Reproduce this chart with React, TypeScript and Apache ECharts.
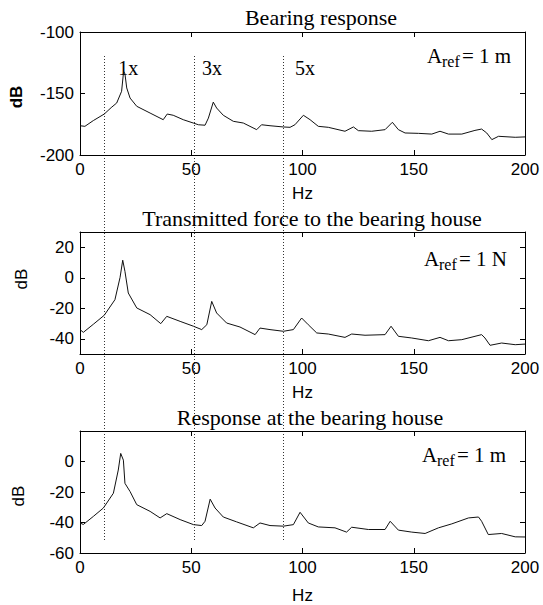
import React, { useEffect, useRef } from "react";
import * as echarts from "echarts";

const W = 543;
const H = 605;

// ---- data ----
const topHz = [0, 2.2, 6, 10.9, 14, 16.5, 18.7, 19.6, 20.2, 21.0, 22.5, 25.5, 31.5, 37.4, 39.2, 41.9, 46.4, 50.9, 53.2, 56.2, 57.7, 59.9, 61.4, 64.4, 68.9, 73.4, 79.4, 81.6, 85.4, 91.4, 94.4, 96.6, 100.4, 103.4, 107.1, 111.6, 119.1, 122.9, 125.1, 131.1, 137.1, 140.4, 143.1, 146.1, 152.1, 158.1, 161.8, 165.6, 171.6, 177.5, 180.5, 182.8, 185.1, 188.1, 195.6, 200];
const topDb = [-176.2, -176.7, -172, -166.7, -161.5, -157.7, -148.2, -132, -134, -145.5, -153.7, -160.4, -165.9, -171.3, -166.7, -167.7, -171.3, -174, -175.4, -175.8, -170, -157, -161.8, -167.7, -172.6, -174, -179.4, -175.4, -176.2, -177.2, -177.5, -175.4, -167.7, -171.3, -176.7, -177.5, -180.7, -177.2, -180.2, -180.7, -179.4, -173.4, -179.4, -182.1, -182.4, -183, -180.7, -183, -183, -180, -178.9, -182.1, -187.5, -184.8, -185.6, -185.3];

const midHz = [0, 1.5, 6, 10.9, 15.7, 18, 19.2, 20.2, 21.7, 25.5, 31.5, 36.3, 39, 45, 51, 54.7, 57, 59.2, 61.4, 65.9, 71.9, 78.7, 80.9, 85.4, 91.4, 95.9, 99.6, 102.6, 106.4, 111.6, 119.1, 122.1, 128.1, 137.1, 139.8, 143.1, 149.1, 156.6, 161.8, 165.6, 171.6, 180.5, 182, 184.3, 189.5, 195.6, 200];
const midDb = [-34, -35.8, -30.5, -24.6, -14.4, 0.2, 11.5, 4.2, -10, -19.8, -24.2, -30.1, -25.3, -28.6, -31.8, -34, -30.8, -15.5, -23.1, -29.7, -32.3, -37.3, -33, -34, -35.1, -34, -26.4, -30.8, -36.2, -36.9, -39.1, -36.9, -37.7, -37.3, -31.8, -38.4, -39.5, -41.3, -39.1, -41.3, -40.6, -37.3, -39.5, -44.3, -42.8, -43.9, -43.5];

const botHz = [0, 1.5, 6, 10.5, 15, 17.2, 18.3, 19.5, 20.2, 22.5, 25.5, 31.5, 36, 39, 45, 51, 54.7, 56.2, 58.5, 60.7, 64.4, 70.4, 77.9, 80.9, 85.4, 91.4, 95.9, 98.9, 102.6, 107.1, 114.6, 119.8, 122.1, 129.6, 137.1, 139.4, 143.1, 149.1, 155.1, 161.1, 167.1, 174.6, 179.1, 180.5, 183.5, 189.5, 195.6, 200];
const botDb = [-40.3, -41.3, -36, -30.5, -20.8, -5.6, 5.3, 0.9, -14.3, -19.7, -28.3, -32.7, -37, -34.2, -38.1, -41.4, -42, -39.2, -24.7, -30.5, -36.4, -39.6, -43.5, -40.3, -42, -42.4, -41.4, -33.3, -40.3, -42.9, -43.5, -46.3, -43.1, -44.6, -44.6, -39.2, -45, -46.3, -47.2, -43.5, -40.9, -37, -36.4, -39.2, -47.9, -47.2, -49.4, -49.5];

const xTicks = [0, 50, 100, 150, 200];
const yRanges = [[-200, -100], [-50, 30], [-60, 20]];
const yLabelValues = [[-200, -150, -100], [-40, -20, 0, 20], [-60, -40, -20, 0]];
const titles = ["Bearing response", "Transmitted force to the bearing house", "Response at the bearing house"];
const refUnits = ["1 m", "1 N", "1 m"];
const harmonicLineHz = [10.9, 51.4, 91.4];
const harmonicLabels = ["1x", "3x", "5x"];
const harmonicLabelHz = [17.2, 54.8, 96.6];
const harmonicLabelDb = -129.5;

const SERIF = "'Liberation Serif', 'Times New Roman', serif";
const SANS = "'Liberation Sans', Arial, sans-serif";

export default function App() {
  const ref = useRef<HTMLDivElement>(null);

  useEffect(() => {
    if (!ref.current) return;
    const chart = echarts.init(ref.current, null, { renderer: "svg", width: W, height: H });

    const grids = [
      { left: 80, top: 32, width: 445, height: 123 },
      { left: 80, top: 232, width: 445, height: 122 },
      { left: 80, top: 431, width: 445, height: 123 },
    ];
    const nameGaps = [30, 30, 34];
    const series = [
      [topHz, topDb],
      [midHz, midDb],
      [botHz, botDb],
    ];

    const axisLine = { show: true, onZero: false, lineStyle: { color: "#000", width: 1 } };
    const tickStyle = { color: "#000", width: 1 };
    const labelStyle = { fontFamily: SANS, fontSize: 17, color: "#000" };

    const xAxis: any[] = [];
    const yAxis: any[] = [];
    for (let i = 0; i < 3; i++) {
      xAxis.push({
        type: "value", gridIndex: i, min: 0, max: 200, interval: 50, position: "bottom",
        name: "Hz", nameLocation: "middle", nameGap: nameGaps[i],
        nameTextStyle: { ...labelStyle },
        axisLine, axisTick: { show: true, inside: true, length: 5, lineStyle: tickStyle },
        axisLabel: { ...labelStyle, margin: 6, customValues: xTicks },
        splitLine: { show: false },
      });
    }
    for (let i = 0; i < 3; i++) {
      xAxis.push({
        type: "value", gridIndex: i, min: 0, max: 200, interval: 50, position: "top",
        axisLine, axisTick: { show: true, inside: true, length: 5, lineStyle: tickStyle },
        axisLabel: { show: false }, splitLine: { show: false },
      });
    }
    for (let i = 0; i < 3; i++) {
      yAxis.push({
        type: "value", gridIndex: i, min: yRanges[i][0], max: yRanges[i][1], position: "left",
        axisLine,
        axisTick: { show: true, inside: true, length: 5, lineStyle: tickStyle, customValues: yLabelValues[i] },
        axisLabel: { ...labelStyle, margin: 6, customValues: yLabelValues[i] },
        splitLine: { show: false },
      });
    }
    for (let i = 0; i < 3; i++) {
      yAxis.push({
        type: "value", gridIndex: i, min: yRanges[i][0], max: yRanges[i][1], position: "right",
        axisLine,
        axisTick: { show: true, inside: true, length: 5, lineStyle: tickStyle, customValues: yLabelValues[i] },
        axisLabel: { show: false, customValues: yLabelValues[i] },
        splitLine: { show: false },
      });
    }

    chart.setOption({
      animation: false,
      backgroundColor: "#fff",
      grid: grids,
      xAxis,
      yAxis,
      series: series.map(([xs, ys], i) => ({
        type: "line",
        xAxisIndex: i,
        yAxisIndex: i,
        data: xs.map((x, k) => [x, ys[k]]),
        showSymbol: false,
        symbol: "none",
        lineStyle: { color: "#111", width: 1 },
        silent: true,
      })),
    });

    const px = (hz: number) => chart.convertToPixel({ xAxisIndex: 0 }, hz) as number;
    const py = (db: number) => chart.convertToPixel({ yAxisIndex: 0 }, db) as number;

    const graphic: any[] = [];
    // dotted harmonic lines spanning all panels
    harmonicLineHz.forEach((hz) => {
      const x = Math.round(px(hz)) + 0.5;
      graphic.push({
        type: "line", silent: true,
        shape: { x1: x, y1: 56, x2: x, y2: 542 },
        style: { stroke: "#333", lineWidth: 1, lineDash: [1, 2] },
      });
    });
    harmonicLabels.forEach((t, k) => {
      graphic.push({
        type: "text", silent: true,
        style: {
          text: t, x: px(harmonicLabelHz[k]), y: py(harmonicLabelDb),
          font: `20px ${SERIF}`, fill: "#000",
          align: "left", textAlign: "left", verticalAlign: "middle", textVerticalAlign: "middle",
        },
      });
    });
    // titles
    const titlePos = [[321, 17.5], [312, 218], [310, 417]];
    titles.forEach((t, i) => {
      graphic.push({
        type: "text", silent: true,
        style: {
          text: t, x: titlePos[i][0], y: titlePos[i][1],
          font: `22px ${SERIF}`, fill: "#000",
          align: "center", textAlign: "center", verticalAlign: "middle", textVerticalAlign: "middle",
        },
      });
    });
    // dB axis names
    const dbPos = [[16, 97], [21, 279], [18, 496]];
    dbPos.forEach(([x, y], i) => {
      graphic.push({
        type: "text", silent: true, x, y, rotation: Math.PI / 2,
        style: {
          text: "dB", x: 0, y: 0,
          font: `${i === 0 ? "bold " : ""}17px ${SANS}`, fill: "#000",
          align: "center", textAlign: "center", verticalAlign: "middle", textVerticalAlign: "middle",
        },
      });
    });
    // A_ref annotations
    const refPos = [[427, 56], [424, 259], [422, 455]];
    refPos.forEach(([x, y], i) => {
      const common = { fill: "#000", align: "left", textAlign: "left", verticalAlign: "middle", textVerticalAlign: "middle" };
      graphic.push({
        type: "group", x, y, silent: true,
        children: [
          { type: "text", style: { ...common, text: "A", x: 0, y: 0, font: `21px ${SERIF}` } },
          { type: "text", style: { ...common, text: "ref", x: 15, y: 5, font: `16px ${SERIF}` } },
          { type: "text", style: { ...common, text: "= " + refUnits[i], x: 35, y: 0, font: `21px ${SERIF}` } },
        ],
      });
    });

    chart.setOption({ graphic });

    return () => chart.dispose();
  }, []);

  return (
    <div
      ref={ref}
      style={{ position: "absolute", left: 0, top: 0, width: W, height: H, background: "#fff" }}
    />
  );
}
